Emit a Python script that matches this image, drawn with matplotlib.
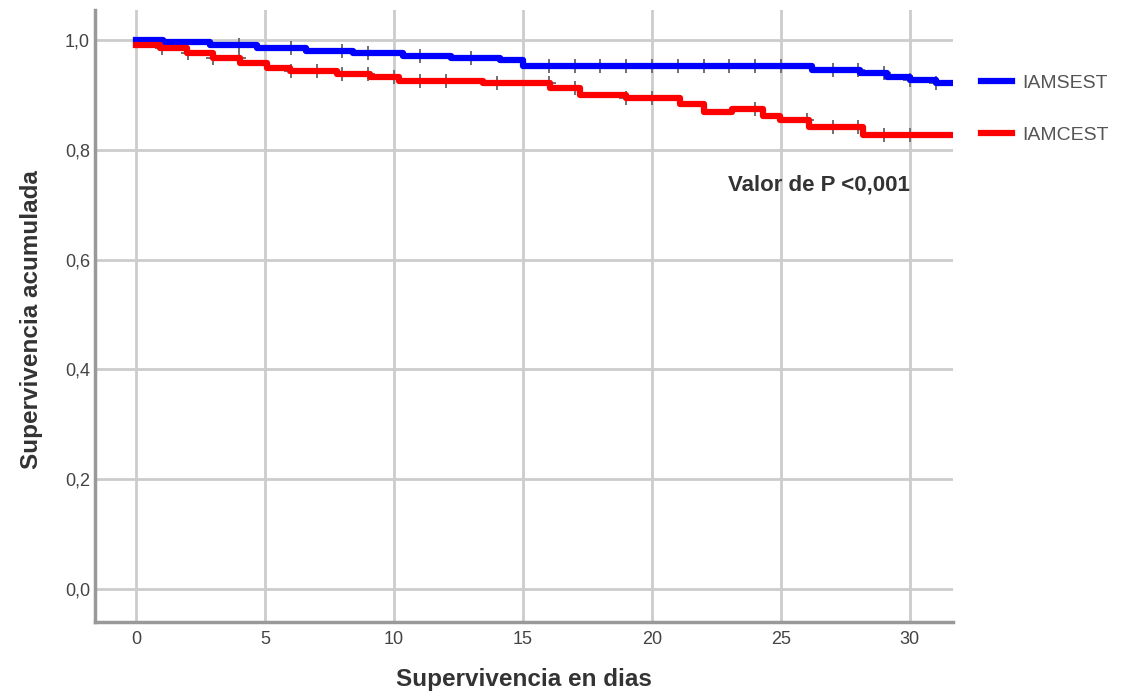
import matplotlib
matplotlib.use("Agg")
import matplotlib.pyplot as plt
import numpy as np

# Step curves (time of step start, survival value)
blue_t = [0, 1.06, 2.87, 4.68, 6.6, 8.4, 10.35, 12.2, 14.1, 15.0, 26.2, 28.06, 29.1, 30.0, 31.0, 31.7]
blue_s = [1.0, 0.997, 0.991, 0.986, 0.980, 0.976, 0.971, 0.967, 0.963, 0.953, 0.945, 0.941, 0.932, 0.927, 0.922, 0.922]
red_t = [0, 0.93, 1.96, 3.0, 4.03, 5.06, 5.97, 7.78, 9.07, 10.2, 13.45, 16.05, 17.2, 19.0, 21.1, 22.0, 23.1, 24.3, 24.96, 26.1, 28.2, 31.7]
red_s = [0.991, 0.985, 0.977, 0.968, 0.959, 0.950, 0.944, 0.938, 0.932, 0.925, 0.922, 0.913, 0.901, 0.894, 0.883, 0.870, 0.874, 0.862, 0.855, 0.842, 0.827, 0.827]
blue_cens = [4, 6, 8, 9, 11, 13, 16, 17, 18, 19, 20, 21, 22, 23, 24, 25, 27, 28, 29, 30, 31]
red_cens = [1, 2, 3, 4, 6, 7, 8, 9, 10, 11, 12, 14, 16, 17, 19, 20, 24, 26, 27, 28, 29, 30]
labels = ["IAMSEST", "IAMCEST"]
colors = ["#0000ff", "#ff0000"]
xticks = [0, 5, 10, 15, 20, 25, 30]
yticks = [0.0, 0.2, 0.4, 0.6, 0.8, 1.0]

plt.rcParams['font.family'] = ['Liberation Sans', 'DejaVu Sans']

fig = plt.figure(figsize=(11.25, 6.93), dpi=100)
ax = fig.add_axes([0.0844, 0.1025, 0.7627, 0.8831])


def step_val(ts, ss, t):
    idx = np.searchsorted(ts, t, side='right') - 1
    return ss[max(idx, 0)]

handles = []
for ts, ss, cens, col, lab in [(blue_t, blue_s, blue_cens, colors[0], labels[0]),
                               (red_t, red_s, red_cens, colors[1], labels[1])]:
    cy = [step_val(ts, ss, c) for c in cens]
    ax.plot(cens, cy, linestyle='none', marker='+', markersize=10, mew=1.4,
            color='#707070', zorder=2)
    h, = ax.step(ts, ss, where='post', color=col, lw=4.5, zorder=3, label=lab)
    handles.append(h)

ax.set_xlim(-1.59, 31.67)
ax.set_ylim(-0.06, 1.055)
ax.set_xticks(xticks)
ax.set_yticks(yticks)
ax.set_yticklabels([f"{v:.1f}".replace('.', ',') for v in yticks])
ax.set_xticklabels([str(v) for v in xticks])
ax.grid(True, color='#cccccc', lw=2)
ax.set_axisbelow(True)
for s in ['top', 'right']:
    ax.spines[s].set_visible(False)
for s in ['left', 'bottom']:
    ax.spines[s].set_color('#999999')
    ax.spines[s].set_linewidth(2.5)
ax.tick_params(length=0, labelsize=13, colors='#444444')
ax.tick_params(axis='x', pad=6.5)
ax.tick_params(axis='y', pad=3.6)

ax.set_xlabel("Supervivencia en dias", fontsize=17.5, fontweight='bold', color='#333333')
ax.set_ylabel("Supervivencia acumulada", fontsize=17.5, fontweight='bold', color='#333333')
ax.xaxis.set_label_coords(0.5, -0.0948)
ax.xaxis.label.set_va('center')
ax.yaxis.set_label_coords(-0.0734, 0.4935)
ax.yaxis.label.set_va('center')
ax.yaxis.label.set_ha('center')

fig.text(728/1125, 1 - 185/693, "Valor de P <0,001", ha='left', va='center', fontsize=16,
         fontweight='bold', color='#333333')

leg = fig.legend(handles=handles, labels=labels, loc='upper left', bbox_to_anchor=(0.872, 0.8932),
                 frameon=False, fontsize=14, handlelength=1.6, labelspacing=1.8,
                 handletextpad=0.52, borderpad=0, borderaxespad=0, labelcolor='#555555')

fig.savefig("out.png", dpi=100, facecolor='white')
